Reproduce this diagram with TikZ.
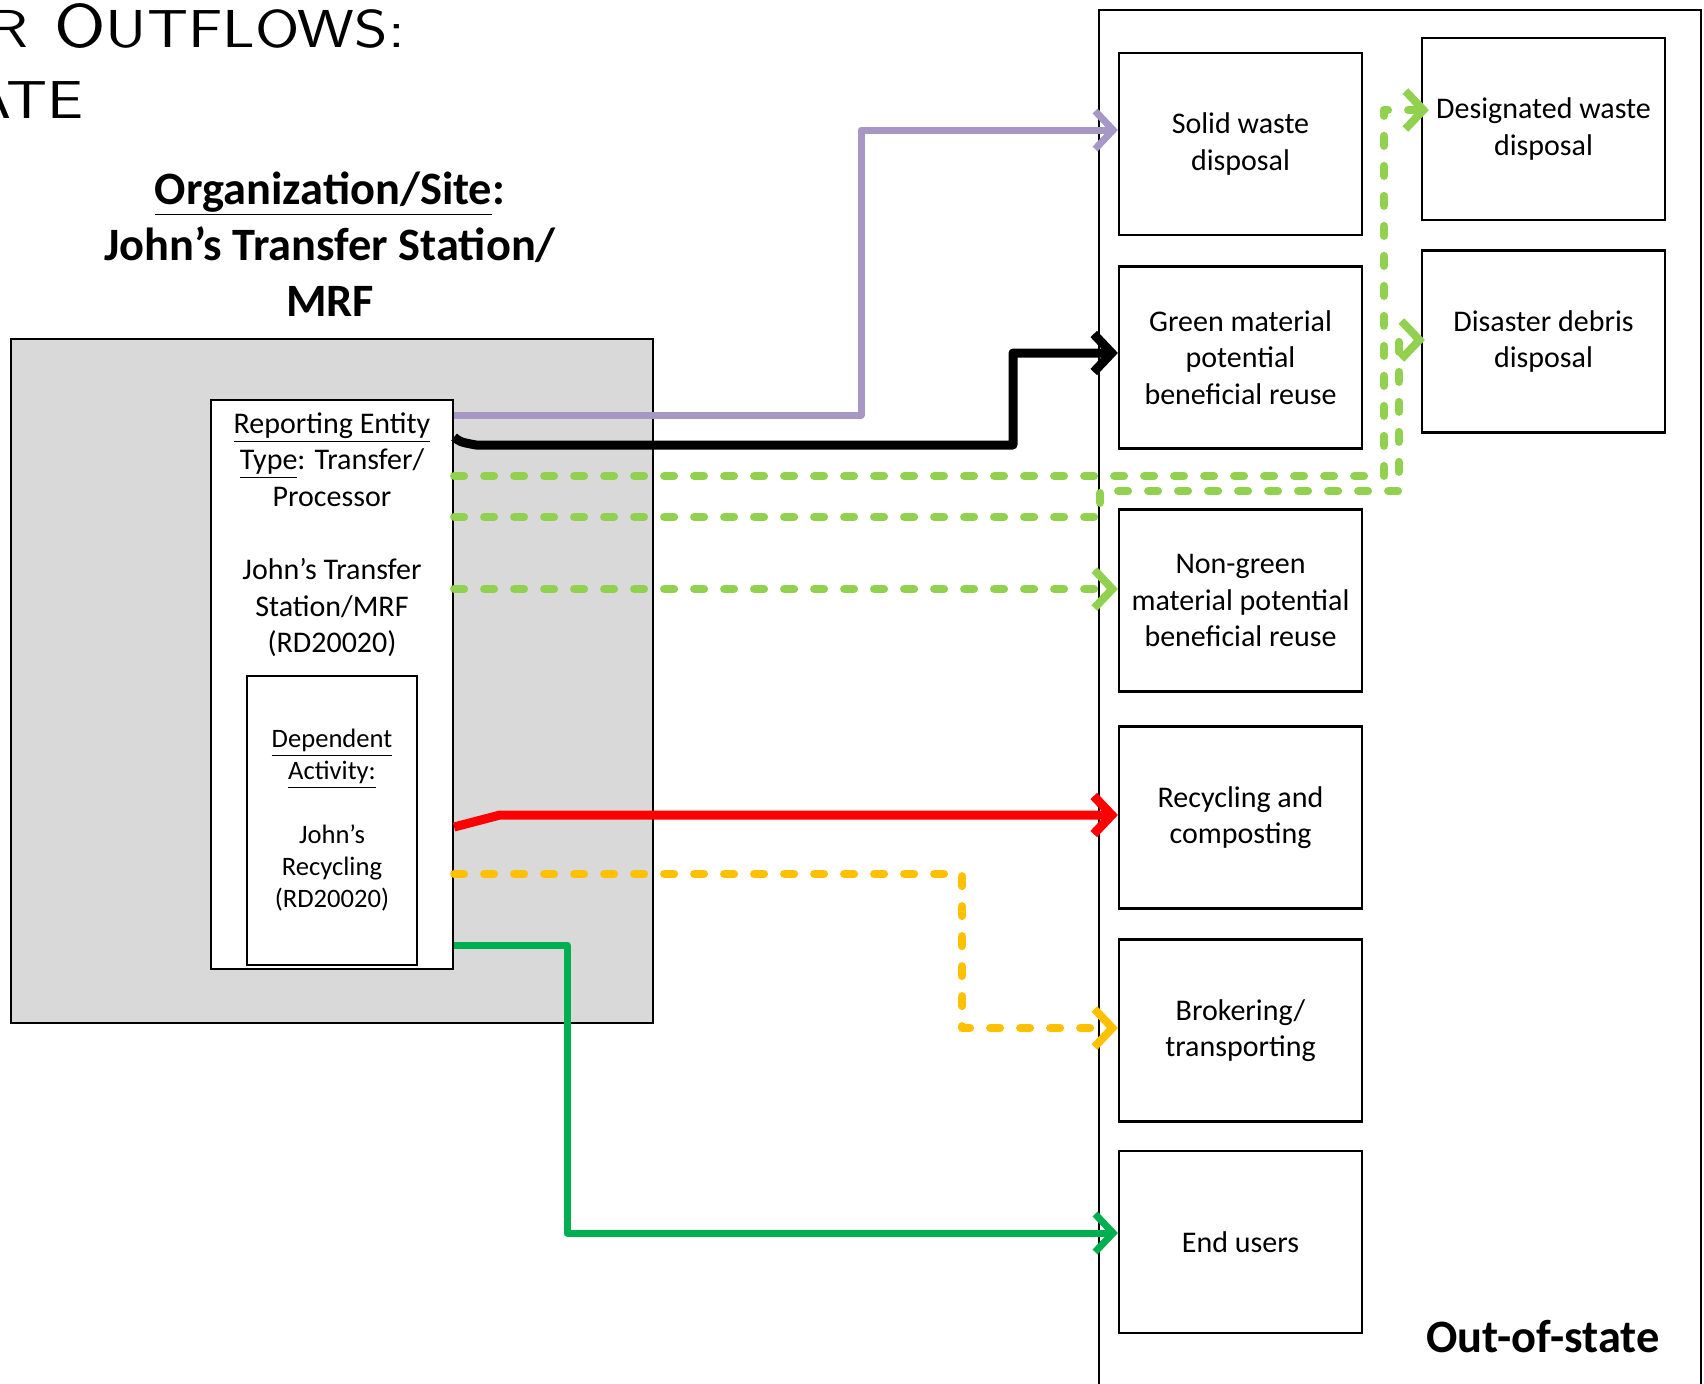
\documentclass[tikz,border=0pt]{standalone}
\usepackage{fontspec}
\setmainfont{Carlito}
\usetikzlibrary{arrows.meta}
\definecolor{lav}{RGB}{167,151,197}
\definecolor{lgreen}{RGB}{146,208,80}
\definecolor{dgreen}{RGB}{0,176,80}
\definecolor{orng}{RGB}{255,192,0}
\definecolor{greybg}{RGB}{217,217,217}
\begin{document}
\begin{tikzpicture}[x=0.5pt,y=-0.5pt,
  bodyfont/.style={font=\fontsize{15}{18.3}\selectfont},
  rbox/.style={draw, line width=1.1pt, minimum width=121.5pt, minimum height=91pt, inner sep=0pt, align=center, font=\fontsize{15}{18.3}\selectfont},
  flow/.style={line width=4pt, line join=round, -{Straight Barb[length=9pt,width=19pt]}},
  dashflow/.style={flow, dash pattern=on 5pt off 10pt, line cap=round},
  titlefont/.style={font=\sffamily\fontsize{26.7}{30}\selectfont},
]
\useasboundingbox (0,0) rectangle (1704,1383);

% top-left title (cut off)
\node[anchor=base east, inner sep=0, titlefont] (tR) at (29,47) {\scalebox{1.2}[1]{R}};
\node[anchor=base west, inner sep=0, titlefont] (tO) at (54,47) {\scalebox{1.2}[1]{{\fontsize{31}{34}\selectfont O}UTFLOWS:}};
\node[anchor=base east, inner sep=0, titlefont] (tA) at (84,118) {\scalebox{1.2}[1]{ATE}};

% heading
\node[align=center, inner sep=0, font=\bfseries\fontsize{23.2}{28}\selectfont, anchor=base] (head) at (330,316)
  {\underline{Organization/Site}:\\John’s Transfer Station/\\MRF};

% site box
\node[draw, line width=1.1pt, fill=greybg, minimum width=321pt, minimum height=342pt, inner sep=0] (site) at (332,681) {};

% out-of-state box
\node[draw, line width=1pt, minimum width=301pt, minimum height=700pt, anchor=north west, inner sep=0] (oos) at (1098,9) {};
\node[font=\bfseries\fontsize{23.2}{28}\selectfont, inner sep=0] (oostxt) at (1543,1337) {Out-of-state};

% destination boxes
\node[rbox] (sw) at (1240.5,144) {Solid waste\\disposal};
\node[rbox] (gm) at (1240.5,357.5) {Green material\\potential\\beneficial reuse};
\node[rbox] (ng) at (1240.5,600.5) {Non-green\\material potential\\beneficial reuse};
\node[rbox] (rc) at (1240.5,817.5) {Recycling and\\composting};
\node[rbox] (bt) at (1240.5,1030.5) {Brokering/\\transporting};
\node[rbox] (eu) at (1240.5,1242) {End users};
\node[rbox] (dw) at (1543.5,129) {Designated waste\\disposal};
\node[rbox] (dd) at (1543.5,341.5) {Disaster debris\\disposal};

% entity and dependent boxes
\node[draw, line width=1.1pt, fill=white, minimum width=121pt, minimum height=284.5pt, inner sep=0] (ent) at (332,684.5) {};
\node[draw, line width=1.1pt, fill=white, minimum width=85pt, minimum height=144.5pt, inner sep=0] (dep) at (332,820.5) {};

\node[align=center, bodyfont, anchor=north, inner sep=0] (enttxt) at (332,412)
  {\underline{Reporting Entity}\\\underline{Type}: Transfer/\\Processor\\[18.3pt]John’s Transfer\\Station/MRF\\(RD20020)};
\node[align=center, font=\fontsize{13.3}{16}\selectfont, anchor=north, inner sep=0] (deptxt) at (332,729)
  {\underline{Dependent}\\\underline{Activity:}\\[16pt]John’s\\Recycling\\(RD20020)};

% connectors
\draw[flow, lav, line width=3.5pt] (ent.east |- 0,415) -- (861,415) |- (sw.west |- 0,130);
\draw[flow, black, line width=4.5pt] (ent.east |- 0,437) .. controls (460,442) .. (476,445) -- (1013,445) |- (gm.west |- 0,353);
\draw[dashflow, lgreen] (ent.east |- 0,476) -- (1384,476) |- ([xshift=4pt]dw.west |- 0,110);
\draw[dashflow, lgreen] (ent.east |- 0,517) -- (1100,517) -- (1100,491) -- (1399,491) |- ([xshift=2pt]dd.west |- 0,340);
\draw[dashflow, lgreen] (ent.east |- 0,589) -- (ng.west |- 0,589);
\draw[flow, red, line width=4.5pt] (ent.east |- 0,827) -- (500,815) -- (rc.west |- 0,815);
\draw[dashflow, orng] (ent.east |- 0,874) -- (962,874) |- (bt.west |- 0,1028);
\draw[flow, dgreen, line width=3.5pt] (ent.east |- 0,945) -- (567,945) |- (eu.west |- 0,1233);
\end{tikzpicture}
\end{document}
